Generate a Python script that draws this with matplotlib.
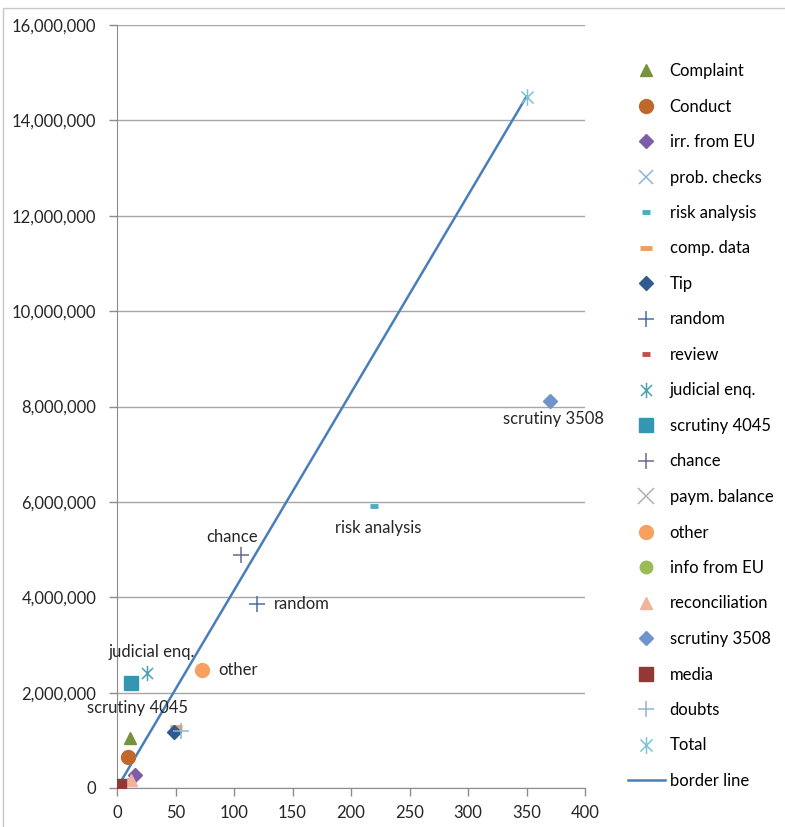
import matplotlib
matplotlib.use("Agg")
import matplotlib.pyplot as plt
from matplotlib.path import Path
from matplotlib.patches import Rectangle
from matplotlib.ticker import FuncFormatter, MultipleLocator

plt.rcParams['font.family'] = ['Lato', 'DejaVu Sans']

# number of cases (x) against amount involved (y), one series per source
names = ['Complaint', 'Conduct', 'irr. from EU', 'prob. checks', 'risk analysis',
         'comp. data', 'Tip', 'random', 'review', 'judicial enq.', 'scrutiny 4045',
         'chance', 'paym. balance', 'other', 'info from EU', 'reconciliation',
         'scrutiny 3508', 'media', 'doubts', 'Total']
cases = [11, 9, 15, 4, 220, 50, 49, 120, 1, 26, 12, 106, 2, 73, 2, 12, 370, 2, 55, 350]
amounts = [1050000, 640000, 280000, 60000, 5920000, 1270000, 1170000, 3850000, 15000,
           2420000, 2200000, 4880000, 20000, 2470000, 40000, 170000, 8120000, 40000,
           1190000, 14500000]
colors = ['#76923c', '#c0682c', '#7b5ea7', '#8fb2dc', '#4bacc6', '#e9a062', '#2f5b92',
          '#4a6fa5', '#c0504d', '#4e9fb8', '#3596b2', '#6a6a95', '#b0b0b0', '#f7a060',
          '#9bbb59', '#f2b39c', '#6f93cc', '#953735', '#92b6cc', '#7dc3d6']

star = Path([(-0.8, -0.8), (0.8, 0.8), (-0.8, 0.8), (0.8, -0.8), (0, -1.1), (0, 1.1)],
            [Path.MOVETO, Path.LINETO, Path.MOVETO, Path.LINETO, Path.MOVETO, Path.LINETO])
markers = ['^', 'o', 'D', 'x', '_', '_', 'D', '+', '_', star, 's',
           '+', 'x', 'o', 'o', '^', 'D', 's', '+', star]
sizes = [9, 10, 7, 10, 6, 9, 7, 11, 6, 11, 10, 11, 11, 10, 9, 9, 7, 10, 11, 12]

# points with a label next to them: (name, offset in px, ha, va)
callouts = [('scrutiny 3508', (4, -10), 'center', 'top'),
            ('risk analysis', (4, -14), 'center', 'top'),
            ('chance', (-9, 10), 'center', 'bottom'),
            ('random', (16, 0), 'left', 'center'),
            ('judicial enq.', (4, 13), 'center', 'bottom'),
            ('other', (16, 0), 'left', 'center'),
            ('scrutiny 4045', (6, -17), 'center', 'top')]

fig = plt.figure(figsize=(7.85, 8.27), dpi=100)
fig.patches.append(Rectangle((3 / 785, -0.05), 1.05, (827 - 8) / 827 + 0.05,
                             transform=fig.transFigure, fill=False,
                             edgecolor='#c8c8c8', linewidth=1.0))
ax = fig.add_axes([117 / 785, 39 / 827, 468 / 785, 763 / 827])

for n, x, y, c, m, s in zip(names, cases, amounts, colors, markers, sizes):
    if m in ('x', '+', '_') or m is star:
        mew = 3.5 if m == '_' else 1.1
        ax.plot([x], [y], linestyle='none', marker=m, markersize=s, color=c,
                markeredgewidth=mew, label=n, zorder=3)
    else:
        ax.plot([x], [y], linestyle='none', marker=m, markersize=s, color=c,
                markeredgecolor=c, label=n, zorder=3)

# border line runs from the origin to the total
ti = names.index('Total')
ax.plot([0, cases[ti]], [0, amounts[ti]], color='#4a7ebb', linewidth=1.8,
        label='border line', zorder=2)

for n, off, ha, va in callouts:
    i = names.index(n)
    ax.annotate(n, (cases[i], amounts[i]), xytext=off, textcoords='offset pixels',
                ha=ha, va=va, fontsize=12, color='#262626', zorder=4)

ax.set_xlim(0, 400)
ax.set_ylim(0, 16000000)
ax.xaxis.set_major_locator(MultipleLocator(50))
ax.yaxis.set_major_locator(MultipleLocator(2000000))
ax.yaxis.set_major_formatter(FuncFormatter(lambda v, p: f'{int(v):,}'))
ax.grid(axis='y', color='#a6a6a6', linewidth=1.0)
ax.set_axisbelow(True)
for side in ('top', 'right'):
    ax.spines[side].set_visible(False)
for side in ('left', 'bottom'):
    ax.spines[side].set_color('#8c8c8c')
ax.tick_params(axis='both', colors='#8c8c8c', labelcolor='#262626', labelsize=12,
               length=6, width=1.0)
ax.tick_params(axis='x', pad=6)
ax.tick_params(axis='y', pad=9)

fig.legend(loc='upper left', bbox_to_anchor=(628 / 785, 1 - 63 / 827), frameon=False,
           fontsize=12, labelspacing=1.17, handlelength=2.2, handletextpad=0.3,
           borderaxespad=0, borderpad=0, numpoints=1)

fig.savefig('out.png', dpi=100)
